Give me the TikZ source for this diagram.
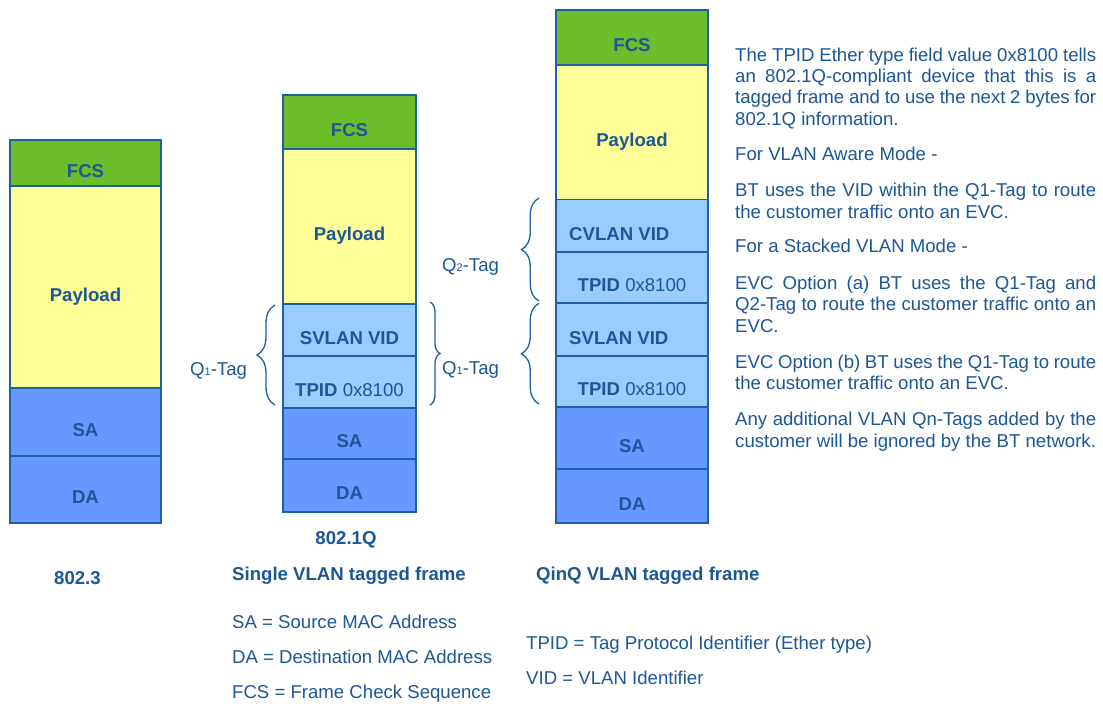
\documentclass[tikz,border=0pt]{standalone}
\usepackage{fontspec}
\setmainfont{Liberation Sans}
\usetikzlibrary{decorations.pathreplacing}
\definecolor{fcsgreen}{HTML}{6BBD2A}
\definecolor{payyellow}{HTML}{FFFF99}
\definecolor{taglblue}{HTML}{99CCFF}
\definecolor{addrblue}{HTML}{6699FF}
\definecolor{edgeblue}{HTML}{1F5FA3}
\definecolor{txtblue}{HTML}{1C5796}
\newcommand\lbsize{\fontsize{18.6}{21.4}\selectfont}
\newcommand\fieldbox[6]{\node[fld, fill=#6, minimum width={#4-#2}, minimum height={#5-#3}] (#1) at ({(#2+#4)/2},{(#3+#5)/2}) {};}
\newcommand\fieldtext[2]{\node[lbl] (#1-t) at ([yshift=-14pt]#1.center) {#2};}
\newcommand\qsub[1]{\raisebox{-0.5pt}{\fontsize{11}{11}\selectfont #1}}
\begin{document}
\begin{tikzpicture}[x=1pt,y=-1pt,
  fld/.style={draw=edgeblue, line width=1.8pt, rectangle, inner sep=0pt},
  lbl/.style={font=\lbsize\bfseries, text=txtblue, inner sep=0pt, anchor=base},
  plain/.style={font=\lbsize, text=txtblue, inner sep=0pt, anchor=base west},
  bold/.style={font=\lbsize\bfseries, text=txtblue, inner sep=0pt, anchor=base west},
  para/.style={font=\lbsize, text=txtblue, inner sep=0pt, anchor=base west, text width=361pt, align=justify},
  brc/.style={draw=edgeblue, line width=1.3pt, decorate, decoration={brace, amplitude=#1}}]
\useasboundingbox (0,0) rectangle (1103,704);
\fill[white] (0,0) rectangle (1103,704);

% 802.3 frame
\fieldbox{a-fcs}{10}{140}{161}{186}{fcsgreen}
\fieldbox{a-pay}{10}{186}{161}{388}{payyellow}
\fieldbox{a-sa}{10}{388}{161}{456}{addrblue}
\fieldbox{a-da}{10}{456}{161}{523}{addrblue}
\fieldtext{a-fcs}{FCS}
\fieldtext{a-pay}{Payload}
\fieldtext{a-sa}{SA}
\fieldtext{a-da}{DA}

% 802.1Q frame
\fieldbox{b-fcs}{283}{95}{416}{149}{fcsgreen}
\fieldbox{b-pay}{283}{149}{416}{304}{payyellow}
\fieldbox{b-sv}{283}{304}{416}{356}{taglblue}
\fieldbox{b-tp}{283}{356}{416}{408}{taglblue}
\fieldbox{b-sa}{283}{408}{416}{459}{addrblue}
\fieldbox{b-da}{283}{459}{416}{512}{addrblue}
\fieldtext{b-fcs}{FCS}
\fieldtext{b-pay}{Payload}
\fieldtext{b-sv}{SVLAN VID}
\fieldtext{b-tp}{TPID \mdseries 0x8100}
\fieldtext{b-sa}{SA}
\fieldtext{b-da}{DA}

% QinQ frame
\fieldbox{c-fcs}{556}{10}{708}{65}{fcsgreen}
\fieldbox{c-pay}{556}{65}{708}{199.5}{payyellow}
\fieldbox{c-cv}{556}{199.5}{708}{252}{taglblue}
\fieldbox{c-tp2}{556}{252}{708}{303.3}{taglblue}
\fieldbox{c-sv}{556}{303.3}{708}{355.8}{taglblue}
\fieldbox{c-tp1}{556}{355.8}{708}{406.8}{taglblue}
\fieldbox{c-sa}{556}{406.8}{708}{469.3}{addrblue}
\fieldbox{c-da}{556}{469.3}{708}{522.7}{addrblue}
\fieldtext{c-fcs}{FCS}
\fieldtext{c-pay}{Payload}
\node[bold] (c-cv-t) at (569,240) {CVLAN VID};
\fieldtext{c-tp2}{TPID \mdseries 0x8100}
\node[bold] (c-sv-t) at (569,344) {SVLAN VID};
\fieldtext{c-tp1}{TPID \mdseries 0x8100}
\fieldtext{c-sa}{SA}
\fieldtext{c-da}{DA}

% braces
\coordinate (bl1) at (275,405);
\coordinate (bl2) at (275,305);
\coordinate (br1) at (430,302);
\coordinate (br2) at (430,405);
\coordinate (cq2a) at (539,301);
\coordinate (cq2b) at (539,198);
\coordinate (cq1a) at (539,404);
\coordinate (cq1b) at (539,303.3);
\draw[brc=18] (bl1) -- (bl2);
\draw[brc=10] (br1) -- (br2);
\draw[brc=17.5] (cq2a) -- (cq2b);
\draw[brc=17.5] (cq1a) -- (cq1b);
\node[plain] (ql) at (190,375) {Q\qsub{1}-Tag};
\node[plain] (qr) at (442,374) {Q\qsub{1}-Tag};
\node[plain] (q2) at (442,271) {Q\qsub{2}-Tag};

% captions
\node[bold, anchor=base] (cap2) at (346,544) {802.1Q};
\node[bold] (cap1) at (54,584) {802.3};
\node[bold] (capS) at (232,580) {Single VLAN tagged frame};
\node[bold] (capQ) at (536,580) {QinQ VLAN tagged frame};
\node[plain] (lsa) at (232,628) {SA = Source MAC Address};
\node[plain] (lda) at (232,663) {DA = Destination MAC Address};
\node[plain] (lfcs) at (232,698) {FCS = Frame Check Sequence};
\node[plain] (ltpid) at (526,649) {TPID = Tag Protocol Identifier (Ether type)};
\node[plain] (lvid) at (526,684) {VID = VLAN Identifier};

% explanation text
\node[para] (p1) at (735,61) {The TPID Ether type field value 0x8100 tells\linebreak an 802.1Q-compliant device that this is a\linebreak tagged frame and to use the next 2 bytes for\linebreak 802.1Q information.};
\node[para] (p2) at (735,160) {For VLAN Aware Mode -};
\node[para] (p3) at (735,196.7) {BT uses the VID within the Q1-Tag to route\linebreak the customer traffic onto an EVC.};
\node[para] (p4) at (735,252.7) {For a Stacked VLAN Mode -};
\node[para] (p5) at (735,289.3) {EVC Option (a) BT uses the Q1-Tag and\linebreak Q2-Tag to route the customer traffic onto an\linebreak EVC.};
\node[para] (p6) at (735,368.3) {EVC Option (b) BT uses the Q1-Tag to route\linebreak the customer traffic onto an EVC.};
\node[para] (p7) at (735,425.7) {Any additional VLAN Qn-Tags added by the\linebreak customer will be ignored by the BT network.};
\end{tikzpicture}
\end{document}
